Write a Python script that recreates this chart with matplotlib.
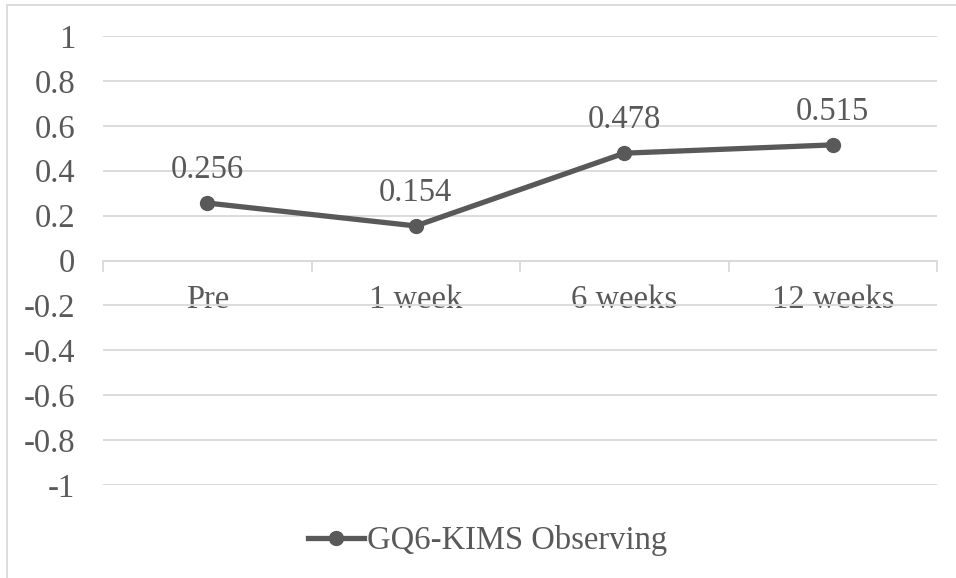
import matplotlib.pyplot as plt
import numpy as np

plt.rcParams["font.family"] = ["Liberation Serif", "DejaVu Serif"]

timepoints = ["Pre", "1 week", "6 weeks", "12 weeks"]
observing = [0.256, 0.154, 0.478, 0.515]
y_ticks = [1, 0.8, 0.6, 0.4, 0.2, 0, -0.2, -0.4, -0.6, -0.8, -1]

text_grey = "#595959"
grid_grey = "#d9d9d9"
fs = 23.5

fig = plt.figure(figsize=(9.56, 5.78), dpi=100)
ax = fig.add_axes([103 / 956, 1 - 485 / 578, 834 / 956, 449 / 578])

x = np.arange(len(timepoints))
ax.plot(x, observing, color=text_grey, linewidth=3.8, marker="o", markersize=10,
        label="GQ6-KIMS Observing", zorder=3)
for xi, v in zip(x, observing):
    ax.annotate(f"{v:.3f}", (xi, v), xytext=(0, 13), textcoords="offset points",
                ha="center", va="bottom", fontsize=fs, color=text_grey)

ax.set_xlim(-0.5, len(timepoints) - 0.5)
ax.set_ylim(-1, 1)
ax.set_yticks(y_ticks)
ax.set_yticklabels([f"{t:g}" for t in y_ticks])
ax.yaxis.grid(True, color=grid_grey, linewidth=1.3)
ax.set_axisbelow(True)
ax.tick_params(axis="y", length=0, pad=20, labelsize=fs, labelcolor=text_grey)

# category labels sit below the zero line, tick marks at category boundaries
ax.set_xticks(x)
ax.set_xticklabels(timepoints)
ax.tick_params(axis="x", length=0, pad=17, labelsize=fs, labelcolor=text_grey)
ax.set_xticks(np.arange(len(timepoints) + 1) - 0.5, minor=True)
ax.tick_params(axis="x", which="minor", length=8, width=1.3, color=grid_grey)
ax.spines["bottom"].set_position(("data", 0))
ax.spines["bottom"].set_color(grid_grey)
ax.spines["bottom"].set_linewidth(1.3)
for side in ("top", "right", "left"):
    ax.spines[side].set_visible(False)

fig.legend(loc="center", bbox_to_anchor=(0.51, 1 - 541 / 578), frameon=False,
           fontsize=fs, handlelength=1.7, handletextpad=0.1,
           labelcolor=text_grey)

# outer chart frame
fig.patches.append(plt.Rectangle((7 / 956, -0.01), 1.0, 1 - 5 / 578 + 0.01,
                                 transform=fig.transFigure, fill=False,
                                 edgecolor=grid_grey, linewidth=1.3))

fig.savefig("out.png", dpi=100)
